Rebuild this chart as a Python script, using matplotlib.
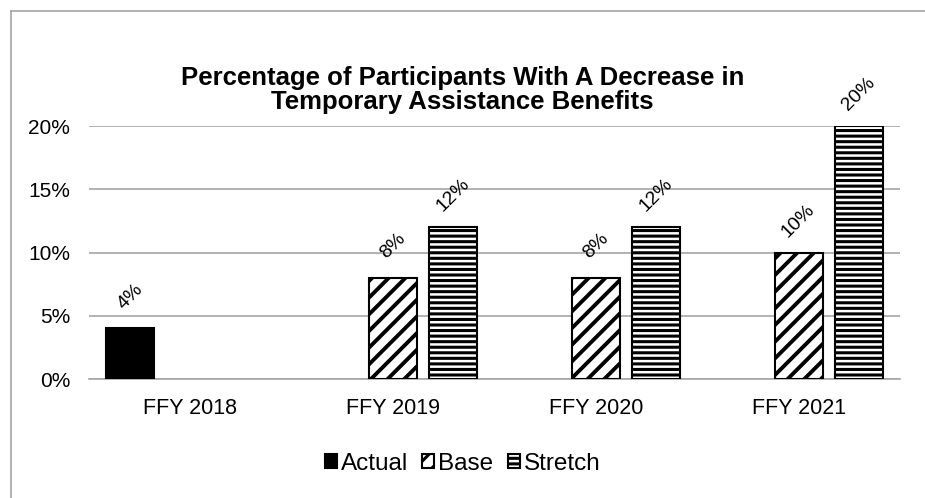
import matplotlib
matplotlib.use("Agg")
import matplotlib.pyplot as plt
from matplotlib.lines import Line2D
import numpy as np

categories = ["FFY 2018", "FFY 2019", "FFY 2020", "FFY 2021"]
actual = [4, None, None, None]
base = [None, 8, 8, 10]
stretch = [None, 12, 12, 20]
series_names = ["Actual", "Base", "Stretch"]
yticks = [0, 5, 10, 15, 20]

plt.rcParams['font.family'] = ['Liberation Sans', 'DejaVu Sans']
plt.rcParams['hatch.linewidth'] = 2.2

fig = plt.figure(figsize=(9.25, 4.98), dpi=100)
W, H = 925, 498
ax = fig.add_axes([89 / W, 1 - 379 / H, (900 - 89) / W, (379 - 126) / H])

x = np.arange(len(categories))
width = 0.237
off = 0.296
styles = [
    dict(color="black", hatch=None, hlw=2.2),
    dict(color="white", hatch="//", hlw=2.8),
    dict(color="white", hatch="---", hlw=2.2),
]
handles = []
for i, (vals, name, st) in enumerate(zip([actual, base, stretch], series_names, styles)):
    xs = [xi + (i - 1) * off for xi, v in zip(x, vals) if v is not None]
    vs = [v for v in vals if v is not None]
    bars = ax.bar(xs, vs, width=width, facecolor=st["color"], edgecolor="black",
                  hatch=st["hatch"], linewidth=1.5, zorder=3, label=name)
    for p in bars:
        try:
            p.set_hatch_linewidth(st["hlw"])
        except Exception:
            pass
    handles.append(bars)
    for xx, v in zip(xs, vs):
        ax.annotate(f"{v}%", (xx, v), xytext=(0, 23), textcoords="offset points",
                    ha="center", va="center", rotation=45, fontsize=14)

ax.set_xlim(-0.5, len(categories) - 0.5)
ax.set_ylim(0, 20)
ax.set_yticks(yticks)
ax.set_yticklabels([f"{t}%" for t in yticks], fontsize=15)
ax.set_xticks(x)
ax.set_xticklabels(categories, fontsize=15.5)
ax.tick_params(axis="y", length=0, pad=13.5)
ax.tick_params(axis="x", length=0, pad=14)
ax.grid(axis="y", color="#a6a6a6", linewidth=1.2, zorder=0)
for s in ["top", "right", "left"]:
    ax.spines[s].set_visible(False)
ax.spines["bottom"].set_color("#a6a6a6")
ax.spines["bottom"].set_linewidth(1.2)

fig.text(0.5, 1 - 90 / H, "Percentage of Participants With A Decrease in\nTemporary Assistance Benefits",
         ha="center", va="center", fontsize=18.5, fontweight="bold", linespacing=1.0)

leg = fig.legend(handles=handles, labels=series_names, loc="center", bbox_to_anchor=(0.5, 1 - 464 / H),
                 ncol=3, frameon=False, fontsize=17.5, handlelength=0.5, handleheight=0.5,
                 handletextpad=0.15, columnspacing=0.6)

fig.add_artist(Line2D([10.5 / W, 10.5 / W], [0, 1 - 11 / H], color="#a6a6a6", linewidth=1.2))
fig.add_artist(Line2D([10.5 / W, 1], [1 - 11 / H, 1 - 11 / H], color="#a6a6a6", linewidth=1.2))

fig.savefig("out.png", dpi=100)
